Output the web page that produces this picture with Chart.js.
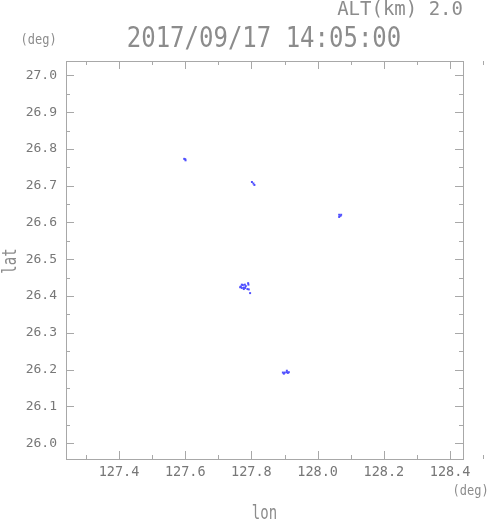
<!DOCTYPE html>
<html>
<head>
<meta charset="utf-8">
<script src="https://cdn.jsdelivr.net/npm/chart.js@4.4.0/dist/chart.umd.min.js"></script>
<style>
  html, body { margin: 0; padding: 0; background: #fff; overflow: hidden; }
  #wrap { width: 491px; height: 521px; }
  canvas { display: block; }
</style>
</head>
<body>
<div id="wrap"><canvas id="echo" width="491" height="521"></canvas></div>
<script>
// echo positions (deg)
const lonValues = [127.597, 127.600, 127.601,
  127.8015, 127.806, 127.809,
  127.768, 127.774, 127.780, 127.777, 127.783, 127.771, 127.790, 127.791, 127.788, 127.792, 127.796,
  127.771, 127.777, 127.766, 127.781,
  128.065, 128.071, 128.065, 128.069,
  127.895, 127.901, 127.907, 127.913, 127.907, 127.898, 127.910]
const latValues = [26.773, 26.772, 26.769,
  26.710, 26.706, 26.702,
  26.426, 26.430, 26.431, 26.423, 26.427, 26.422, 26.435, 26.431, 26.419, 26.418, 26.408,
  26.431, 26.419, 26.424, 26.422,
  26.621, 26.621, 26.615, 26.618,
  26.192, 26.192, 26.193, 26.193, 26.197, 26.189, 26.191]

const lonTicks = [127.4, 127.6, 127.8, 128.0, 128.2, 128.4]
const latTicks = [26.0, 26.1, 26.2, 26.3, 26.4, 26.5, 26.6, 26.7, 26.8, 26.9, 27.0]

const timeLabel = '2017/09/17 14:05:00'
const altLabel = 'ALT(km) 2.0'

const MONO = '"DejaVu Sans Mono", "Liberation Mono", monospace'
const TEXT = '#777'
const TITLE = '#8c8c8c'
const FRAME = '#a8a8a8'

function drawText(ctx, txt, x, y, size, sy, align, rot) {
  ctx.save()
  ctx.translate(x, y)
  if (rot) ctx.rotate(rot)
  ctx.scale(1, sy)
  ctx.font = size + 'px ' + MONO
  ctx.fillStyle = TITLE
  ctx.textAlign = align
  ctx.textBaseline = 'alphabetic'
  ctx.fillText(txt, 0, 0)
  ctx.restore()
}

// box, inward ticks on all four sides, and the titles
const framePlugin = {
  id: 'frame',
  beforeDraw(chart) {
    const ctx = chart.ctx
    ctx.save()
    ctx.fillStyle = '#fff'
    ctx.fillRect(0, 0, chart.width, chart.height)
    ctx.restore()
  },
  afterDraw(chart) {
    const ctx = chart.ctx
    const xs = chart.scales.x, ys = chart.scales.y
    const L = xs.left, R = xs.right, T = ys.top, B = ys.bottom
    ctx.save()
    ctx.strokeStyle = FRAME
    ctx.lineWidth = 1
    ctx.strokeRect(L + 0.5, T + 0.5, R - L - 1, B - T)
    ctx.beginPath()
    for (let i = 0; i <= 12; i++) {
      const v = 127.3 + i * 0.1
      const px = Math.round(xs.getPixelForValue(v)) + 0.5
      const len = i % 2 === 1 ? 8 : 4
      ctx.moveTo(px, T); ctx.lineTo(px, T + len)
      ctx.moveTo(px, B); ctx.lineTo(px, B - len)
    }
    for (let i = 0; i <= 20; i++) {
      const v = 26.0 + i * 0.05
      const py = Math.round(ys.getPixelForValue(v)) + 0.5
      const len = i % 2 === 0 ? 8 : 4
      ctx.moveTo(L, py); ctx.lineTo(L + len, py)
      ctx.moveTo(R - 1, py); ctx.lineTo(R - 1 - len, py)
    }
    ctx.stroke()
    ctx.restore()

    drawText(ctx, altLabel, 463, 15, 19, 1, 'right')
    drawText(ctx, timeLabel, 264, 46.5, 24, 1.15, 'center')
    drawText(ctx, '(deg)', 20.5, 43.5, 12, 1.1, 'left')
    drawText(ctx, '(deg)', 452.5, 495, 12, 1.1, 'left')
    drawText(ctx, 'lon', 264.5, 519, 14, 1.35, 'center')
    drawText(ctx, 'lat', 15.5, 261, 14, 1.35, 'center', -Math.PI / 2)
  }
}

const points = lonValues.map((v, i) => ({ x: v, y: latValues[i] }))

new Chart(document.getElementById('echo'), {
  type: 'scatter',
  data: {
    datasets: [{
      data: points,
      backgroundColor: 'rgb(80,80,255)',
      borderWidth: 0,
      pointStyle: 'rect',
      pointRadius: 1.4,
    }],
  },
  options: {
    responsive: false,
    animation: false,
    layout: { padding: { left: 0, top: 61, right: 27, bottom: 0 } },
    plugins: { legend: { display: false }, tooltip: { enabled: false } },
    scales: {
      x: {
        type: 'linear',
        min: 127.24,
        max: 128.442,
        grid: { display: false, drawTicks: false },
        border: { display: false },
        afterBuildTicks: (s) => { s.ticks = lonTicks.map(v => ({ value: v })) },
        afterFit: (s) => { s.height = 62 },
        ticks: {
          padding: 5,
          maxRotation: 0,
          color: TEXT,
          font: { family: MONO, size: 13.5 },
          callback: (v) => Number(v).toFixed(1),
        },
      },
      y: {
        type: 'linear',
        min: 25.957,
        max: 27.039,
        grid: { display: false, drawTicks: false },
        border: { display: false },
        afterBuildTicks: (s) => { s.ticks = latTicks.map(v => ({ value: v })) },
        afterFit: (s) => { s.width = 66 },
        ticks: {
          padding: 9,
          color: TEXT,
          font: { family: MONO, size: 13 },
          callback: (v) => Number(v).toFixed(1),
        },
      },
    },
  },
  plugins: [framePlugin],
})
</script>
</body>
</html>
